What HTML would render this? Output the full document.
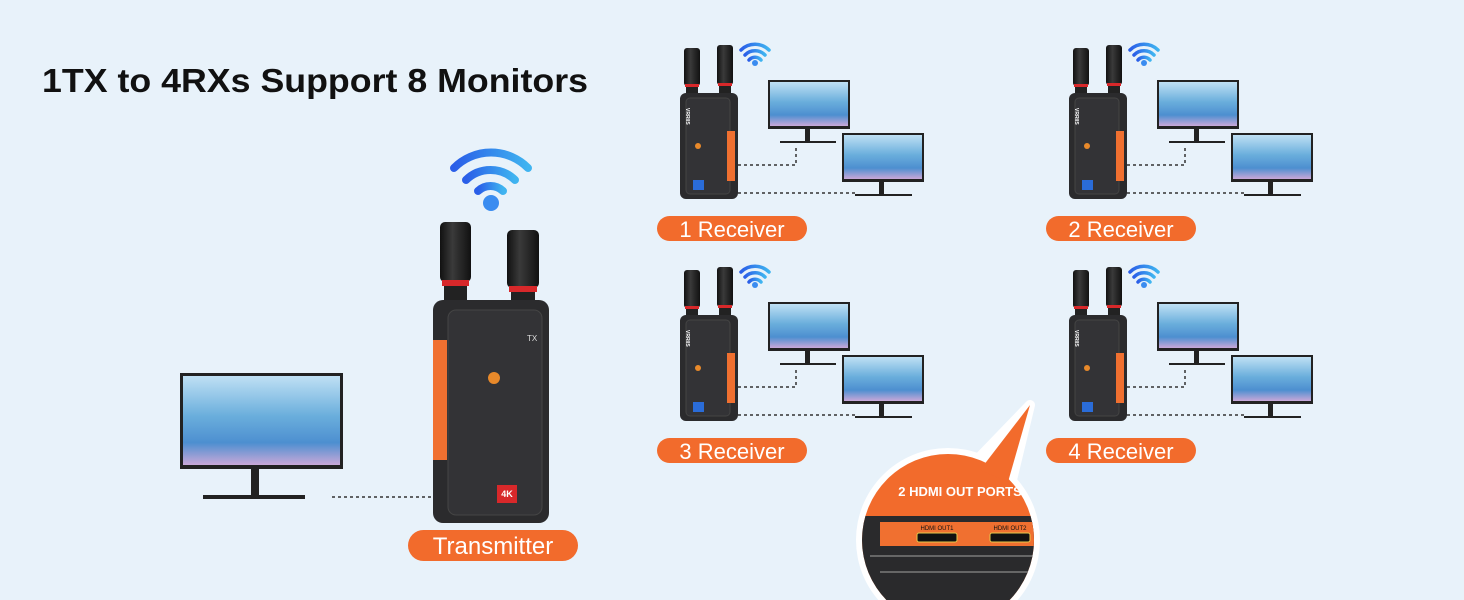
<!DOCTYPE html>
<html><head><meta charset="utf-8"><style>
html,body{margin:0;width:1464px;height:600px;overflow:hidden;background:#e8f2fa;font-family:"Liberation Sans",sans-serif}
svg{display:block}
</style></head><body>
<svg width="1464" height="600" viewBox="0 0 1464 600" xmlns="http://www.w3.org/2000/svg">
<defs>
<linearGradient id="scr" x1="0" y1="0" x2="0" y2="1">
<stop offset="0" stop-color="#bfe0f4"/><stop offset="0.45" stop-color="#6aaedc"/><stop offset="0.75" stop-color="#4d8fd0"/><stop offset="1" stop-color="#c9a8d8"/></linearGradient>
<linearGradient id="ant" x1="0" y1="0" x2="1" y2="0"><stop offset="0" stop-color="#111"/><stop offset="0.4" stop-color="#3a3a3a"/><stop offset="1" stop-color="#111"/></linearGradient>
<linearGradient id="wf" x1="0" y1="0" x2="1" y2="0"><stop offset="0" stop-color="#2a5ee8"/><stop offset="1" stop-color="#3fb4f0"/></linearGradient>
<g id="rx">
 <rect x="684" y="48" width="16" height="38" rx="3" fill="url(#ant)"/><rect x="685" y="84" width="14" height="3" fill="#d8282a"/><rect x="686" y="87" width="12" height="8" fill="#222"/>
 <rect x="717" y="45" width="16" height="40" rx="3" fill="url(#ant)"/><rect x="718" y="83" width="14" height="3" fill="#d8282a"/><rect x="719" y="86" width="12" height="9" fill="#222"/>
 <rect x="680" y="93" width="58" height="106" rx="6" fill="#2b2b2d"/>
 <rect x="686" y="98" width="44" height="96" rx="4" fill="#333336" stroke="#444" stroke-width="1"/>
 <rect x="727" y="131" width="8" height="50" fill="#f07030"/>
 <circle cx="698" cy="146" r="3" fill="#e8892a"/>
 <rect x="693" y="180" width="11" height="10" fill="#2a6cd8"/>
 <text x="686" y="112" font-size="5" fill="#fff" font-weight="bold" transform="rotate(90 688 110)">VRRIIS</text>
 <g fill="none" stroke="url(#wf)" stroke-width="3.5" stroke-linecap="round">
  <path d="M741 50 A20 20 0 0 1 769 50"/><path d="M745 55 A14 14 0 0 1 765 55"/><path d="M749 60 A8 8 0 0 1 761 60"/></g>
 <circle cx="755" cy="63" r="3" fill="#3a8cf0"/>
 <rect x="768" y="80" width="82" height="49" fill="#222"/><rect x="770" y="82" width="78" height="44" fill="url(#scr)"/>
 <rect x="805" y="129" width="5" height="13" fill="#222"/><rect x="780" y="141" width="56" height="2" fill="#222"/>
 <rect x="842" y="133" width="82" height="49" fill="#222"/><rect x="844" y="135" width="78" height="44" fill="url(#scr)"/>
 <rect x="879" y="182" width="5" height="13" fill="#222"/><rect x="855" y="194" width="57" height="2" fill="#222"/>
 <path d="M738 165 H796 V148" fill="none" stroke="#333" stroke-width="1.5" stroke-dasharray="3 3"/>
 <path d="M738 193 H855" fill="none" stroke="#333" stroke-width="1.5" stroke-dasharray="3 3"/>
</g>
</defs>

<text x="42" y="92" font-size="33" font-weight="bold" fill="#111" textLength="546" lengthAdjust="spacingAndGlyphs">1TX to 4RXs Support 8 Monitors</text>

<use href="#rx"/>
<use href="#rx" transform="translate(389,0)"/>
<use href="#rx" transform="translate(0,222)"/>
<use href="#rx" transform="translate(389,222)"/>

<g font-size="22" fill="#fff" text-anchor="middle">
<rect x="657" y="216" width="150" height="25" rx="12.5" fill="#f26b2c"/><text x="732" y="237">1 Receiver</text>
<rect x="1046" y="216" width="150" height="25" rx="12.5" fill="#f26b2c"/><text x="1121" y="237">2 Receiver</text>
<rect x="657" y="438" width="150" height="25" rx="12.5" fill="#f26b2c"/><text x="732" y="459">3 Receiver</text>
<rect x="1046" y="438" width="150" height="25" rx="12.5" fill="#f26b2c"/><text x="1121" y="459">4 Receiver</text>
</g>

<rect x="180" y="373" width="163" height="96" fill="#222"/><rect x="183" y="376" width="157" height="89" fill="url(#scr)"/>
<rect x="251" y="469" width="8" height="28" fill="#222"/><rect x="203" y="495" width="102" height="4" fill="#222"/>
<path d="M332 497 H432" stroke="#333" stroke-width="1.5" stroke-dasharray="3 3"/>

<g fill="none" stroke="url(#wf)" stroke-width="8" stroke-linecap="round">
<path d="M454 168 A52 52 0 0 1 528 168"/><path d="M466 180 A35 35 0 0 1 515 180"/><path d="M478 191 A18 18 0 0 1 503 191"/></g>
<circle cx="491" cy="203" r="8" fill="#3a8cf0"/>
<rect x="440" y="222" width="31" height="60" rx="5" fill="url(#ant)"/><rect x="442" y="280" width="27" height="6" fill="#d8282a"/><rect x="444" y="286" width="23" height="18" fill="#222"/>
<rect x="507" y="230" width="32" height="58" rx="5" fill="url(#ant)"/><rect x="509" y="286" width="28" height="6" fill="#d8282a"/><rect x="511" y="292" width="24" height="14" fill="#222"/>
<rect x="433" y="300" width="116" height="223" rx="10" fill="#2b2b2d"/>
<rect x="448" y="310" width="94" height="205" rx="8" fill="#333336" stroke="#454545"/>
<rect x="433" y="340" width="14" height="120" fill="#f07030"/>
<circle cx="494" cy="378" r="6" fill="#e8892a"/>
<rect x="497" y="485" width="20" height="18" fill="#d8282a"/><text x="507" y="497" font-size="9" font-weight="bold" fill="#fff" text-anchor="middle">4K</text>
<text x="527" y="341" font-size="8" fill="#ddd">TX</text>
<rect x="408" y="530" width="170" height="31" rx="15.5" fill="#f26b2c"/>
<text x="493" y="554" font-size="24" fill="#fff" text-anchor="middle">Transmitter</text>

<!-- callout -->
<polygon points="975,462 1030,405 1012,480" fill="#fff" stroke="#fff" stroke-width="10" stroke-linejoin="round"/>
<circle cx="948" cy="540" r="92" fill="#fff"/>
<clipPath id="cc"><circle cx="948" cy="540" r="86"/></clipPath>
<g clip-path="url(#cc)">
<rect x="850" y="440" width="200" height="200" fill="#f26b2c"/>
<rect x="850" y="516" width="200" height="90" fill="#2a2a2c"/>
<rect x="880" y="522" width="170" height="24" fill="#f07030"/>
<rect x="917" y="533" width="40" height="9" rx="2" fill="#111" stroke="#e6c84a"/>
<rect x="990" y="533" width="40" height="9" rx="2" fill="#111" stroke="#e6c84a"/>
<text x="937" y="530" font-size="6" fill="#111" text-anchor="middle">HDMI OUT1</text>
<text x="1010" y="530" font-size="6" fill="#111" text-anchor="middle">HDMI OUT2</text>
<path d="M870 556 H1050 M880 572 H1050" stroke="#666" stroke-width="2"/>
</g>
<polygon points="980,470 1030,405 1008,482" fill="#f26b2c"/>
<text x="960" y="496" font-size="13" font-weight="bold" fill="#fff" text-anchor="middle">2 HDMI OUT PORTS</text>
</svg>
</body></html>
